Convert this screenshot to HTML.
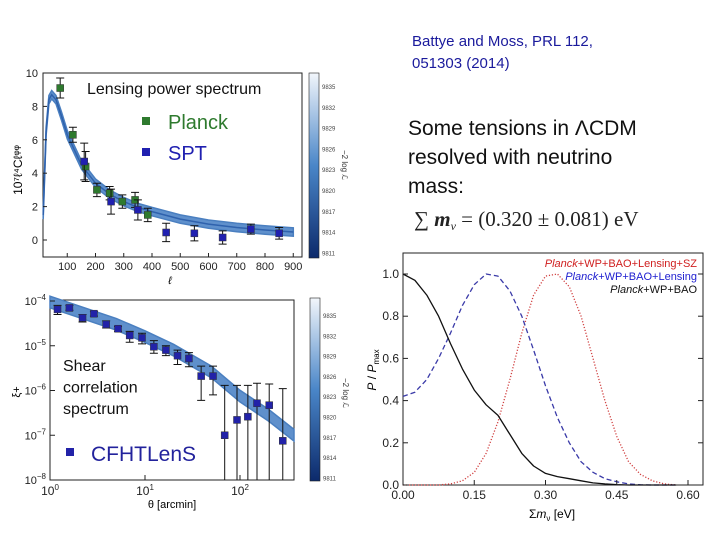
<!DOCTYPE html>
<html><head><meta charset="utf-8"><style>
html,body{margin:0;padding:0;background:#fff}
svg{display:block}
text{font-family:"Liberation Sans",sans-serif}
</style></head><body>
<svg id="s" width="720" height="540" viewBox="0 0 720 540" xmlns="http://www.w3.org/2000/svg">
<defs>
<linearGradient id="cb" x1="0" y1="1" x2="0" y2="0"><stop offset="0" stop-color="#0c2a6b"/><stop offset="0.5" stop-color="#4a86c8"/><stop offset="1" stop-color="#f2f6fb"/></linearGradient>
</defs>
<text x="412" y="46" font-size="15" fill="#1a1a9c">Battye and Moss, PRL 112,</text>
<text x="412" y="68" font-size="15" fill="#1a1a9c">051303 (2014)</text>
<text x="408" y="135" font-size="21" fill="#111">Some tensions in ΛCDM</text>
<text x="408" y="164" font-size="21" fill="#111">resolved with neutrino</text>
<text x="408" y="193" font-size="21" fill="#111">mass:</text>
<text x="414" y="226" font-size="21" fill="#222" style="font-family:'Liberation Serif',serif">∑ <tspan font-weight="bold" font-style="italic">m</tspan><tspan font-size="12" font-style="italic" dy="4">ν</tspan><tspan dy="-4"> = (0.320 ± 0.081) eV</tspan></text>
<g id="g1"></g>
<g id="g2"></g>
<g id="g3"></g>
</svg>
<script>
// ---- Lensing power spectrum data
const planckL=[75,120,165,205,250,295,340,385];
const planckV=[9.1,6.3,4.4,3.0,2.8,2.3,2.4,1.5];
const planckE=[0.6,0.45,0.9,0.4,0.4,0.4,0.45,0.4];
const sptL=[160,255,350,450,550,650,750,850];
const sptV=[4.7,2.3,1.8,0.45,0.4,0.15,0.65,0.4];
const sptE=[1.1,0.75,0.6,0.55,0.45,0.4,0.3,0.35];
const lensTheoryL=[15,25,35,45,60,80,100,150,200,250,300,350,400,500,600,700,800,900];
const lensTheoryV=[1.5,6.5,8.4,8.7,8.4,7.4,6.3,4.5,3.4,2.75,2.3,1.95,1.7,1.25,0.95,0.75,0.6,0.48];
const lensXTicks=[100,200,300,400,500,600,700,800,900];
const lensYTicks=[0,2,4,6,8,10];
const cbLabels=["9835","9832","9829","9826","9823","9820","9817","9814","9811"];
// ---- Shear data
const shearT=[1.2,1.6,2.2,2.9,3.9,5.2,6.9,9.3,12.4,16.6,22,29,39,52,69,93,121,151,203,282];
const shearV=[6.5e-5,7e-5,4.2e-5,5.2e-5,3e-5,2.4e-5,1.7e-5,1.5e-5,9.5e-6,8e-6,6e-6,5.2e-6,2.1e-6,2.1e-6,1e-7,2.2e-7,2.6e-7,5.2e-7,4.7e-7,7.5e-8];
const shearLo=[5e-5,6.2e-5,3.4e-5,4.6e-5,2.5e-5,2.1e-5,1.2e-5,1.1e-5,6.8e-6,6e-6,3.8e-6,3.4e-6,6e-7,8e-7,1e-8,1e-8,1e-8,1e-8,1e-8,1e-8];
const shearHi=[8e-5,8e-5,5e-5,5.8e-5,3.6e-5,2.7e-5,2.1e-5,1.9e-5,1.3e-5,1e-5,8e-6,7e-6,3.5e-6,3.5e-6,1.3e-6,1.3e-6,1.3e-6,1.45e-6,1.4e-6,1.1e-6];
const shearTheoryT=[1,2,5,10,20,50,100,200,370];
const shearTheoryV=[9.5e-5,5.8e-5,3.0e-5,1.6e-5,8e-6,2.6e-6,7.5e-7,2.8e-7,1e-7];
const shearYTickExp=[-4,-5,-6,-7,-8];
const shearXTickExp=[0,1,2];
// ---- Neutrino mass posterior
const massX=[0,0.025,0.05,0.075,0.1,0.125,0.15,0.175,0.2,0.225,0.25,0.275,0.3,0.325,0.35,0.375,0.4,0.425,0.45,0.475,0.5,0.525,0.55,0.575];
const blackP=[1.0,0.97,0.9,0.8,0.67,0.55,0.45,0.38,0.33,0.24,0.15,0.09,0.055,0.04,0.03,0.02,0.01,0.005,0.002,0,0,0,0,0];
const blueP=[0.42,0.44,0.5,0.6,0.72,0.85,0.95,1.0,0.99,0.92,0.8,0.64,0.47,0.32,0.2,0.11,0.06,0.03,0.015,0.005,0.001,0,0,0];
const redP=[0,0,0,0,0.005,0.02,0.06,0.15,0.3,0.5,0.72,0.9,0.99,1.0,0.94,0.8,0.6,0.4,0.23,0.11,0.05,0.02,0.005,0];
const massXTicks=[0,0.15,0.30,0.45,0.60];
const massYTicks=[0,0.2,0.4,0.6,0.8,1.0];

const NS="http://www.w3.org/2000/svg";
function mk(p,t,a,txt){const e=document.createElementNS(NS,t);for(const k in a)e.setAttribute(k,a[k]);if(txt!==undefined)e.textContent=txt;p.appendChild(e);return e;}
function spline(pts){return pts.map((p,i)=>(i?"L":"M")+p[0].toFixed(1)+","+p[1].toFixed(1)).join("");}

// ===== Chart 1
(function(){
const g=document.getElementById("g1");
const X=l=>39+l*0.2825, Y=v=>240-v*16.7;
let e=mk(g,"rect",{x:43,y:73,width:259,height:184,fill:"#fff",stroke:"#222","stroke-width":1});

const up=lensTheoryL.map((l,i)=>[X(l),Y(lensTheoryV[i]+0.25)]);
const dn=lensTheoryL.map((l,i)=>[X(l),Y(lensTheoryV[i]-0.25)]).reverse();
e=mk(g,"path",{d:spline(up)+spline(dn).replace("M","L")+"Z",fill:"#5f90cc",stroke:"#4a7fc0","stroke-width":1.5});

e=mk(g,"path",{d:spline(lensTheoryL.map((l,i)=>[X(l),Y(lensTheoryV[i])])),fill:"none",stroke:"#2f62ad","stroke-width":1.5});

function pts(L,V,E,col,nm){L.forEach((l,i)=>{const x=X(l);
 let b=mk(g,"path",{d:`M${x},${Y(V[i]-E[i])}V${Y(V[i]+E[i])}M${x-4},${Y(V[i]-E[i])}h8M${x-4},${Y(V[i]+E[i])}h8`,stroke:"#111","stroke-width":1,fill:"none"});
 
 let r=mk(g,"rect",{x:x-3.5,y:Y(V[i])-3.5,width:7,height:7,fill:col,stroke:"#333","stroke-width":0.5});
 });}
pts(planckL,planckV,planckE,"#2e7a2e","planck");
pts(sptL,sptV,sptE,"#2020b0","spt");
lensXTicks.forEach(t=>{let x=X(t);mk(g,"line",{x1:x,x2:x,y1:257,y2:253,stroke:"#222"});
 let tx=mk(g,"text",{x:x,y:270,"font-size":11,"text-anchor":"middle",fill:"#222"},t);
 });
lensYTicks.forEach(t=>{let y=Y(t);mk(g,"line",{x1:43,x2:47,y1:y,y2:y,stroke:"#222"});
 let tx=mk(g,"text",{x:38,y:y+4,"font-size":11,"text-anchor":"end",fill:"#222"},t);
 });
e=mk(g,"text",{x:170,y:284,"font-size":11,"font-style":"italic","text-anchor":"middle"},"ℓ");
e=mk(g,"text",{x:0,y:0,"font-size":12,"text-anchor":"middle",transform:"translate(22,170) rotate(-90)"},"10⁷ℓ⁴Cℓᵠᵠ");
e=mk(g,"rect",{x:84,y:77,width:200,height:22,fill:"#fff"});
e=mk(g,"text",{x:87,y:94,"font-size":16,fill:"#111"},"Lensing power spectrum");
e=mk(g,"rect",{x:142,y:117,width:8,height:8,fill:"#2e7a2e"});
e=mk(g,"text",{x:168,y:129,"font-size":20,fill:"#2e7a2e"},"Planck");
e=mk(g,"rect",{x:142,y:148,width:8,height:8,fill:"#2020b0"});
e=mk(g,"text",{x:168,y:160,"font-size":20,fill:"#2020b0"},"SPT");
// colorbar
e=mk(g,"rect",{x:309,y:73,width:10,height:185,fill:"url(#cb)",stroke:"#222","stroke-width":0.6});
cbLabels.forEach((c,i)=>{let t=mk(g,"text",{x:322,y:89+i*20.8,"font-size":6,fill:"#444"},c);});
mk(g,"text",{x:0,y:0,"font-size":8,fill:"#333",transform:"translate(342,150) rotate(90)"},"−2 log ℒ");
})();

// ===== Chart 2
(function(){
const g=document.getElementById("g2");
const X=t=>50+Math.log10(t)*95, Y=v=>301+(-4-Math.log10(v))*44.75;
let e=mk(g,"rect",{x:50,y:300,width:244,height:180,fill:"#fff",stroke:"#222"});
const up=shearTheoryT.map((t,i)=>[X(t),Y(shearTheoryV[i]*1.35)]);
const dn=shearTheoryT.map((t,i)=>[X(t),Y(shearTheoryV[i]/1.35)]).reverse();
e=mk(g,"path",{d:spline(up)+spline(dn).replace("M","L")+"Z",fill:"#5f90cc",stroke:"#4a7fc0","stroke-width":1.5});
shearT.forEach((t,i)=>{const x=X(t);
 let b=mk(g,"path",{d:`M${x},${Math.min(Y(shearLo[i]),480)}V${Y(shearHi[i])}M${x-4},${Y(shearHi[i])}h8`+(Y(shearLo[i])<480?`M${x-4},${Y(shearLo[i])}h8`:""),stroke:"#111",fill:"none"});
 
 let r=mk(g,"rect",{x:x-3.5,y:Y(shearV[i])-3.5,width:7,height:7,fill:"#2222a8",stroke:"#333","stroke-width":0.5});
 });
shearYTickExp.forEach(k=>{let y=Y(Math.pow(10,k));mk(g,"line",{x1:50,x2:55,y1:y,y2:y,stroke:"#222"});
 let t=mk(g,"text",{x:46,y:y+4,"font-size":11,"text-anchor":"end",fill:"#222"});t.innerHTML=`10<tspan font-size="8" dy="-5">${k<0?"−"+(-k):k}</tspan>`;
 });
shearXTickExp.forEach(k=>{let x=X(Math.pow(10,k));mk(g,"line",{x1:x,x2:x,y1:480,y2:475,stroke:"#222"});
 let t=mk(g,"text",{x:x,y:495,"font-size":12,"text-anchor":"middle",fill:"#222"});t.innerHTML=`10<tspan font-size="8" dy="-5">${k}</tspan>`;
 });
e=mk(g,"text",{x:172,y:508,"font-size":11,"text-anchor":"middle"},"θ [arcmin]");
e=mk(g,"text",{x:0,y:0,"font-size":11,"text-anchor":"middle",transform:"translate(20,392) rotate(-90)"},"ξ+");
["Shear","correlation","spectrum"].forEach((s,i)=>{let t=mk(g,"text",{x:63,y:371+i*21.5,"font-size":16,fill:"#111"},s);});
e=mk(g,"rect",{x:66,y:448,width:8,height:8,fill:"#2222a8"});
e=mk(g,"text",{x:91,y:461,"font-size":21,fill:"#22229c"},"CFHTLenS");
e=mk(g,"rect",{x:310,y:298,width:10,height:183,fill:"url(#cb)",stroke:"#222","stroke-width":0.6});
cbLabels.forEach((c,i)=>{let t=mk(g,"text",{x:323,y:318+i*20.3,"font-size":6,fill:"#444"},c);});
mk(g,"text",{x:0,y:0,"font-size":8,fill:"#333",transform:"translate(343,378) rotate(90)"},"−2 log ℒ");
})();

// ===== Chart 3
(function(){
const g=document.getElementById("g3");
const X=m=>403+m/0.15*71.25, Y=p=>485-p*211;
let e=mk(g,"rect",{x:403,y:253,width:300,height:232,fill:"#fff",stroke:"#222"});
function line(P,col,dash,nm){let d="";massX.forEach((m,i)=>{d+=(i?"L":"M")+X(m).toFixed(1)+","+Y(P[i]).toFixed(1);});
 let l=mk(g,"path",{d:d,fill:"none",stroke:col,"stroke-width":1.3,"stroke-dasharray":dash,"stroke-linejoin":"round"});
 }
line(redP,"#d04040","1.2,1.8","red-lensing-sz-curve");
line(blueP,"#3a3aa8","5,3","blue-lensing-curve");
line(blackP,"#111","","black-baseline-curve");
massXTicks.forEach(t=>{let x=X(t);mk(g,"line",{x1:x,x2:x,y1:485,y2:480,stroke:"#222"});
 let tx=mk(g,"text",{x:x,y:499,"font-size":12,"text-anchor":"middle",fill:"#222"},t.toFixed(2));});
massYTicks.forEach(t=>{let y=Y(t);mk(g,"line",{x1:403,x2:408,y1:y,y2:y,stroke:"#222"});mk(g,"line",{x1:698,x2:703,y1:y,y2:y,stroke:"#222"});
 let tx=mk(g,"text",{x:399,y:y+4,"font-size":12,"text-anchor":"end",fill:"#222"},t.toFixed(1));});
e=mk(g,"text",{x:552,y:518,"font-size":12,"text-anchor":"middle"},"Σm");e.innerHTML='Σ<tspan font-style="italic">m</tspan><tspan font-size="8" dy="3">ν</tspan><tspan dy="-3"> [eV]</tspan>';
e=mk(g,"text",{x:0,y:0,"font-size":12,"text-anchor":"middle",transform:"translate(376,370) rotate(-90)"});e.innerHTML='<tspan font-style="italic">P</tspan> / <tspan font-style="italic">P</tspan><tspan font-size="8" dy="3">max</tspan>';
[["+WP+BAO+Lensing+SZ","#d02020",267],["+WP+BAO+Lensing","#2020d0",280],["+WP+BAO","#111",293]].forEach(a=>{
 let t=mk(g,"text",{x:697,y:a[2],"font-size":11,"text-anchor":"end",fill:a[1]});t.innerHTML='<tspan font-style="italic">Planck</tspan>'+a[0];
 });
})();
</script>
</body></html>
